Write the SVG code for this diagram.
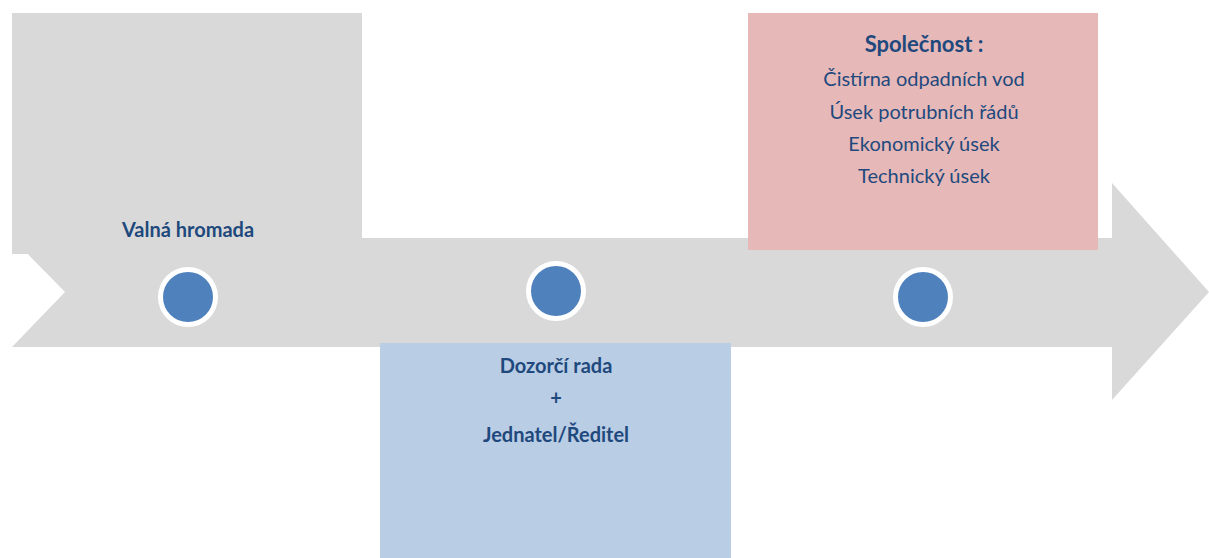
<svg xmlns="http://www.w3.org/2000/svg" width="1209" height="558" viewBox="0 0 1209 558">
<style>
.t{font-family:Lato,"Open Sans","Liberation Sans",sans-serif;fill:#1F497D;text-anchor:middle}
.b{font-weight:bold;font-size:20px}
.r{font-size:20px}
.dot{fill:#4F81BD;stroke:#FFFFFF;stroke-width:5}
</style>
<rect width="1209" height="558" fill="#FFFFFF"/>
<g id="arrow">
<path d="M12,238 L1112,238 L1112,183 L1209,292 L1112,400 L1112,347 L12,347 L65,292 Z" fill="#D9D9D9"/>
</g>
<g id="valna">
<rect x="12" y="13" width="350" height="241" fill="#D9D9D9"/>
<text class="t b" x="188" y="237">Valná hromada</text>
</g>
<g id="dozorci">
<rect x="380" y="343" width="351" height="215" fill="#B9CDE5"/>
<text class="t b" x="556" y="373">Dozorčí rada</text>
<text class="t b" x="556" y="405">+</text>
<text class="t b" x="556" y="442">Jednatel/Ředitel</text>
</g>
<g id="spolecnost">
<rect x="748" y="13" width="350" height="237" fill="#E6B9B8"/>
<text class="t" x="924" y="52" style="font-weight:bold;font-size:22px">Společnost :</text>
<text class="t r" x="924" y="86">Čistírna odpadních vod</text>
<text class="t r" x="924" y="119">Úsek potrubních řádů</text>
<text class="t r" x="924" y="151">Ekonomický úsek</text>
<text class="t r" x="924" y="183">Technický úsek</text>
</g>
<g id="connectors">
<circle class="dot" cx="188" cy="297" r="27.5"/>
<circle class="dot" cx="556" cy="291" r="27.5"/>
<circle class="dot" cx="923" cy="297" r="27.5"/>
</g>
</svg>
